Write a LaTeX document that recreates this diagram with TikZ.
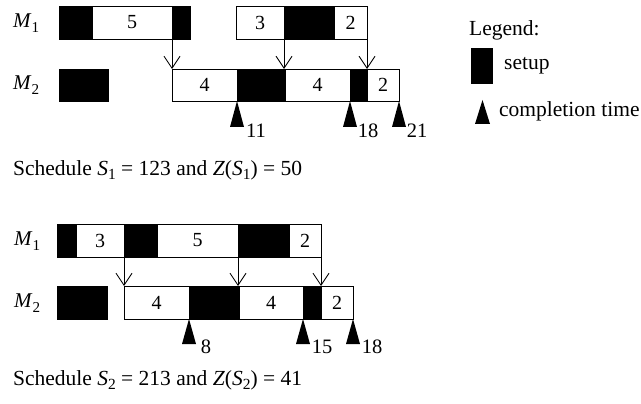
\documentclass[tikz,border=0pt]{standalone}
\usepackage{fontspec}
\usepackage{graphicx}
\setmainfont{Liberation Serif}
\usetikzlibrary{arrows.meta}
\newcommand\subs[1]{\raisebox{-0.45ex}{\scalebox{0.72}{#1}}}
\begin{document}
\begin{tikzpicture}[x=1pt,y=-1pt,
  cell/.style={draw=black,line width=0.9pt,outer sep=0pt,inner sep=0pt,anchor=north west,
     font=\fontsize{20}{20}\selectfont},
  job/.style={cell,fill=white},
  setupblk/.style={cell,fill=black},
  arr/.style={line width=0.9pt,-{Straight Barb[length=12pt,width=16pt,line width=0.9pt]}},
  tri/.style={fill=black},
  lbl/.style={inner sep=0pt,font=\fontsize{20.5}{20.5}\selectfont},
  mlab/.style={inner sep=0pt,anchor=west,font=\fontsize{21}{21}\selectfont},
  captxt/.style={inner sep=0pt,anchor=west,font=\fontsize{21.5}{21.5}\selectfont},
  leg/.style={inner sep=0pt,anchor=west,font=\fontsize{21.5}{21.5}\selectfont}]
\useasboundingbox (0,0) rectangle (641,404);

% ---------- Schedule S1 ----------
\node[mlab] (a-m1) at (13,23) {\textit{M}\subs{1}};
\node[mlab] (a-m2) at (13,85) {\textit{M}\subs{2}};

\node[setupblk,minimum width=33pt,minimum height=33pt] (a1s) at (59,6) {};
\node[job,minimum width=80pt,minimum height=33pt] (a1j1) at (92,6) {5};
\node[setupblk,minimum width=18pt,minimum height=33pt] (a1s2) at (172,6) {};
\node[job,minimum width=48pt,minimum height=33pt] (a1j2) at (236,6) {3};
\node[setupblk,minimum width=50pt,minimum height=33pt] (a1s3) at (284,6) {};
\node[job,minimum width=33pt,minimum height=33pt] (a1j3) at (334,6) {2};

\node[setupblk,minimum width=49pt,minimum height=32pt] (a2s) at (59,69) {};
\node[job,minimum width=65pt,minimum height=32pt] (a2j1) at (172,69) {4};
\node[setupblk,minimum width=48pt,minimum height=32pt] (a2s2) at (237,69) {};
\node[job,minimum width=65pt,minimum height=32pt] (a2j2) at (285,69) {4};
\node[setupblk,minimum width=17pt,minimum height=32pt] (a2s3) at (350,69) {};
\node[job,minimum width=32pt,minimum height=32pt] (a2j3) at (367,69) {2};

\draw[arr] (a1j1.south east) -- (a2j1.north west);
\draw[arr] (a1j2.south east) -- (a1j2.south east |- a2j2.north);
\draw[arr] (a1j3.south east) -- (a2j3.north west);

\fill[tri] (a2s2.south west) -- ++(-7,26) -- ++(14,0) -- cycle;
\fill[tri] (a2s3.south west) -- ++(-7,26) -- ++(14,0) -- cycle;
\fill[tri] (a2j3.south east) -- ++(-7,26) -- ++(14,0) -- cycle;
\node[lbl] (a-c1) at (256,131) {11};
\node[lbl] (a-c2) at (368,131) {18};
\node[lbl] (a-c3) at (417,131) {21};

\node[captxt] (a-cap) at (13,170) {Schedule \textit{S}\subs{1} = 123 and \textit{Z}(\textit{S}\subs{1}) = 50};

% ---------- Schedule S2 ----------
\node[mlab] (b-m1) at (14,241) {\textit{M}\subs{1}};
\node[mlab] (b-m2) at (14,303) {\textit{M}\subs{2}};

\node[setupblk,minimum width=19pt,minimum height=33pt] (b1s) at (57,224) {};
\node[job,minimum width=48pt,minimum height=33pt] (b1j1) at (76,224) {3};
\node[setupblk,minimum width=33pt,minimum height=33pt] (b1s2) at (124,224) {};
\node[job,minimum width=81pt,minimum height=33pt] (b1j2) at (157,224) {5};
\node[setupblk,minimum width=51pt,minimum height=33pt] (b1s3) at (238,224) {};
\node[job,minimum width=32pt,minimum height=33pt] (b1j3) at (289,224) {2};

\node[setupblk,minimum width=50pt,minimum height=33pt] (b2s) at (57,286) {};
\node[job,minimum width=65pt,minimum height=33pt] (b2j1) at (124,286) {4};
\node[setupblk,minimum width=50pt,minimum height=33pt] (b2s2) at (189,286) {};
\node[job,minimum width=64pt,minimum height=33pt] (b2j2) at (239,286) {4};
\node[setupblk,minimum width=18pt,minimum height=33pt] (b2s3) at (303,286) {};
\node[job,minimum width=32pt,minimum height=33pt] (b2j3) at (321,286) {2};

\draw[arr] (b1j1.south east) -- (b2j1.north west);
\draw[arr] (b1j2.south east) -- (b1j2.south east |- b2j2.north);
\draw[arr] (b1j3.south east) -- (b2j3.north west);

\fill[tri] (b2s2.south west) -- ++(-7,25) -- ++(14,0) -- cycle;
\fill[tri] (b2s3.south west) -- ++(-7,25) -- ++(14,0) -- cycle;
\fill[tri] (b2j3.south east) -- ++(-7,25) -- ++(14,0) -- cycle;
\node[lbl] (b-c1) at (206,347) {8};
\node[lbl] (b-c2) at (322,347) {15};
\node[lbl] (b-c3) at (372,347) {18};

\node[captxt] (b-cap) at (13,380) {Schedule \textit{S}\subs{2} = 213 and \textit{Z}(\textit{S}\subs{2}) = 41};

% ---------- Legend ----------
\node[leg] (leg-t) at (469,30) {Legend:};
\node[setupblk,minimum width=21pt,minimum height=35pt] (leg-s) at (471,48) {};
\node[leg] (leg-st) at (504,66) {setup};
\fill[tri] (482.5,100) coordinate (leg-c) -- ++(-7.5,24) -- ++(15,0) -- cycle;
\node[leg] (leg-ct) at (499,111) {completion time};
\end{tikzpicture}
\end{document}
